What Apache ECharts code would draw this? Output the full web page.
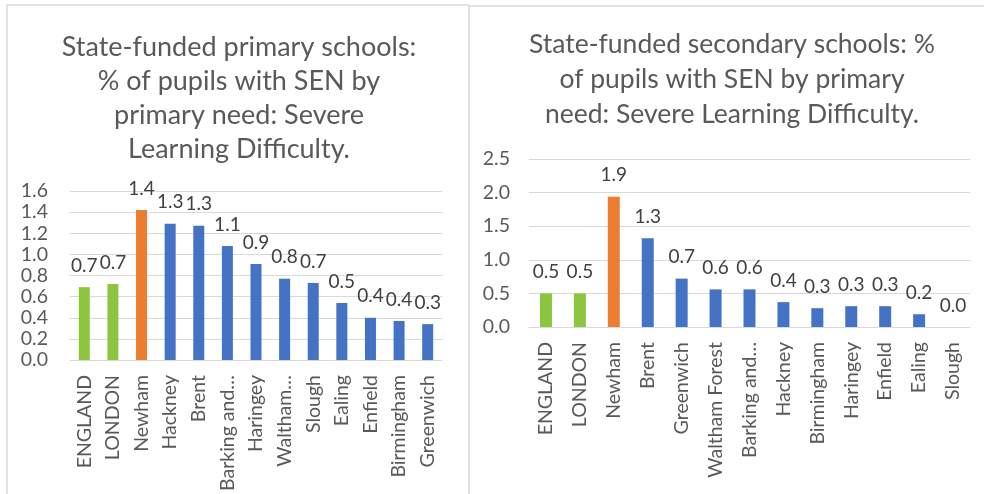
<!DOCTYPE html>
<html><head><meta charset="utf-8">
<script src="https://cdn.jsdelivr.net/npm/echarts@6/dist/echarts.min.js"></script>
<style>html,body{margin:0;padding:0;background:#fff}#c{width:984px;height:494px}</style>
</head><body><div id="c"></div>
<script>
// Primary schools chart
const primaryCategories = ['ENGLAND','LONDON','Newham','Hackney','Brent','Barking and…','Haringey','Waltham…','Slough','Ealing','Enfield','Birmingham','Greenwich'];
const primaryValues = [0.69, 0.72, 1.42, 1.29, 1.27, 1.08, 0.91, 0.77, 0.73, 0.54, 0.40, 0.37, 0.34];
const primaryGroups = ['benchmark','benchmark','focus','other','other','other','other','other','other','other','other','other','other'];
const primaryTicks = [0, 1.6, 0.2];
const primaryTitle = 'State-funded primary schools:\n% of pupils with SEN by\nprimary need: Severe\nLearning Difficulty.';

// Secondary schools chart
const secondaryCategories = ['ENGLAND','LONDON','Newham','Brent','Greenwich','Waltham Forest','Barking and…','Hackney','Birmingham','Haringey','Enfield','Ealing','Slough'];
const secondaryValues = [0.50, 0.50, 1.94, 1.32, 0.72, 0.56, 0.56, 0.37, 0.28, 0.31, 0.31, 0.19, 0.0];
const secondaryGroups = ['benchmark','benchmark','focus','other','other','other','other','other','other','other','other','other','other'];
const secondaryTicks = [0, 2.5, 0.5];
const secondaryTitle = 'State-funded secondary schools: %\nof pupils with SEN by primary\nneed: Severe Learning Difficulty.';

const groupColors = {benchmark:'#8CC63F', focus:'#ED7D31', other:'#4472C4'};
const FONT = 'Lato';
const gridCol = '#D9D9D9';

function barData(vals, groups){
  return vals.map((v,i)=>({value:v, itemStyle:{color:groupColors[groups[i]]}}));
}
function xAxis(idx, cats){
  return {type:'category', gridIndex:idx, data:cats,
    axisTick:{show:false}, axisLine:{lineStyle:{color:gridCol}},
    axisLabel:{rotate:90, margin:15, color:'#595959', fontFamily:FONT, fontSize:19.5, interval:0}};
}
function yAxis(idx, t, m){
  return {type:'value', gridIndex:idx, min:t[0], max:t[1], interval:t[2],
    axisLine:{show:false}, axisTick:{show:false},
    splitLine:{lineStyle:{color:gridCol}},
    axisLabel:{margin:m, color:'#595959', fontFamily:FONT, fontSize:19.5, formatter:v=>v.toFixed(1)}};
}
function series(idx, vals, groups, w){
  return {type:'bar', xAxisIndex:idx, yAxisIndex:idx, barWidth:w, data:barData(vals,groups),
    label:{show:true, position:'top', distance:12, color:'#404040', fontFamily:FONT, fontSize:19,
      formatter:p=>p.value.toFixed(1)}};
}

const chart = echarts.init(document.getElementById('c'), null, {renderer:'canvas'});
chart.setOption({
  animation:false,
  backgroundColor:'#fff',
  title:[
    {text:primaryTitle, left:234, top:25, textAlign:'center',
      textStyle:{color:'#595959', fontFamily:FONT, fontSize:27, fontWeight:'normal', lineHeight:34}},
    {text:secondaryTitle, left:727, top:22, textAlign:'center',
      textStyle:{color:'#595959', fontFamily:FONT, fontSize:26.5, fontWeight:'normal', lineHeight:35}}
  ],
  grid:[
    {left:70, right:542, top:191, bottom:132},
    {left:529, right:14, top:159, bottom:167}
  ],
  xAxis:[xAxis(0, primaryCategories), xAxis(1, secondaryCategories)],
  yAxis:[yAxis(0, primaryTicks, 22), yAxis(1, secondaryTicks, 19)],
  series:[series(0, primaryValues, primaryGroups, 11), series(1, secondaryValues, secondaryGroups, 12)],
  graphic:[
    {type:'rect', shape:{x:7, y:5, width:462, height:500}, style:{fill:'none', stroke:'#D9D9D9', lineWidth:1.5}, z:-1},
    {type:'line', shape:{x1:469, y1:6, x2:984, y2:6}, style:{stroke:'#D9D9D9', lineWidth:1.5}, z:-1}
  ]
});
</script></body></html>
